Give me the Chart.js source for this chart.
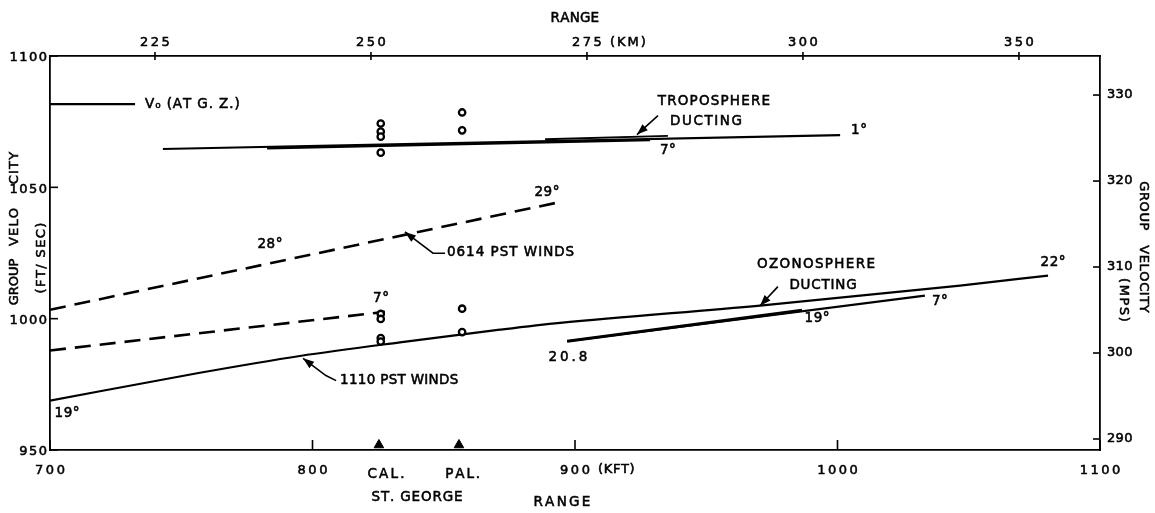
<!DOCTYPE html>
<html><head><meta charset="utf-8">
<script src="https://cdn.jsdelivr.net/npm/chart.js@4.4.1/dist/chart.umd.min.js"></script>
<style>html,body{margin:0;padding:0;background:#fff;} #wrap{width:1155px;height:513px;position:relative;}</style>
</head><body><div id="wrap"><canvas id="c" width="1155" height="513"></canvas></div>
<script>
// ---- axis ticks ----
const kmTicks = [225, 250, 275, 300, 325];
const kmTickLabels = ['225', '250', '275', '300', '350'];
const kftTicks = [700, 800, 900, 1000, 1100];
const kftTickLabels = ['700', '800', '900', '1000', '1100'];
const ftTicks = [950, 1000, 1050, 1100];
const ftTickLabels = ['950', '1000', '1050', '1100'];
const mpsTicks = [290, 300, 310, 320, 330];
const mpsTickLabels = ['290', '300', '310', '320', '330'];

// ---- series (range kft, group velocity ft/sec) ----
const v0X = [700, 732.4];
const v0Y = [1081.7, 1081.7];
const tropo1X = [743.0, 1001.0];
const tropo1Y = [1064.6, 1069.9];
const tropo7X = [782.7, 928.6];
const tropo7Y = [1064.9, 1068.0];
const tropoDuctX = [888.6, 935.4];
const tropoDuctY = [1068.3, 1069.6];
const obsUpperX = [826, 826, 826, 826, 857, 857];
const obsUpperY = [1074.3, 1071.2, 1069.3, 1063.2, 1078.5, 1071.7];
const obsLowerX = [826, 826, 826, 826, 857, 857];
const obsLowerY = [1001.8, 999.9, 992.6, 991.3, 1003.8, 994.9];
const winds0614X = [700, 892.4];
const winds0614Y = [1003.4, 1044.0];
const winds0614LowX = [700, 827.6];
const winds0614LowY = [987.9, 1002.6];
const winds1110X = [700, 757.1, 795.2, 833.3, 871.4, 894.3, 970.5, 1046.7, 1080.2];
const winds1110Y = [968.8, 979.4, 985.8, 991.0, 995.8, 998.4, 1005.0, 1012.6, 1016.4];
const ozone19X = [897.0, 986.5];
const ozone19Y = [991.4, 1003.2];
const ozone7X = [897.0, 1033.3];
const ozone7Y = [991.4, 1008.8];
const stationNames = ['CAL.', 'PAL.'];
const stationX = [825.3, 855.8];
const stationY = [951.9, 951.9];

const FONT = 'DejaVu Sans';
const pts = (xs, ys) => xs.map((x, i) => ({x, y: ys[i]}));

// annotations in data coordinates
const notes = [
  {t: 'V\u2080 (AT G. Z.)', x: 736.2, y: 1081.4, align: 'left', sp: 0.9},
  {t: 'TROPOSPHERE', x: 952.9, y: 1082.8, sp: 1.2},
  {t: 'DUCTING', x: 949.9, y: 1075.2, sp: 1.6},
  {t: '7°', x: 935.4, y: 1063.9},
  {t: '1°', x: 1008.2, y: 1071.8},
  {t: '28°', x: 783.8, y: 1028.4},
  {t: '29°', x: 889.3, y: 1047.9},
  {t: '0614 PST WINDS', x: 851.2, y: 1025.3, align: 'left', sp: 1.0},
  {t: '7°', x: 826.1, y: 1007.6},
  {t: '1110 PST WINDS', x: 810.5, y: 976.4, align: 'left', sp: 0.3},
  {t: '19°', x: 706.5, y: 963.8},
  {t: '20.8', x: 897.3, y: 985.3, sp: 3},
  {t: 'OZONOSPHERE', x: 991.8, y: 1020.5, sp: 1.35},
  {t: 'DUCTING', x: 994.5, y: 1012.8, sp: 0.8},
  {t: '19°', x: 992.2, y: 999.9},
  {t: '7°', x: 1039.0, y: 1006.4},
  {t: '22°', x: 1082.1, y: 1021.3}
];
const arrows = [
  [[931.6, 1077.3], [923.6, 1070.1]],
  [[850.5, 1024.9], [845.9, 1024.9], [835.2, 1033.0]],
  [[809.0, 976.4], [805.1, 978.35], [796.4, 984.9]],
  [[977.3, 1012.2], [970.5, 1004.9]]
];

function spacedText(ctx, text, x, y, o = {}) {
  const size = o.size || 13.5, sp = o.sp || 0, align = o.align || 'center';
  ctx.save();
  ctx.font = size + 'px "' + FONT + '"';
  ctx.textBaseline = 'middle';
  ctx.textAlign = 'left';
  ctx.fillStyle = '#000';
  ctx.strokeStyle = '#000';
  ctx.lineWidth = 0.55;
  ctx.translate(x, y);
  if (o.rot) ctx.rotate(o.rot);
  const chars = Array.from(text);
  const ws = chars.map(c => ctx.measureText(c).width);
  const total = ws.reduce((a, b) => a + b, 0) + sp * (chars.length - 1);
  let cx = align === 'center' ? -total / 2 : (align === 'right' ? -total : 0);
  chars.forEach((c, i) => { ctx.fillText(c, cx, 0); ctx.strokeText(c, cx, 0); cx += ws[i] + sp; });
  ctx.restore();
}

const overlay = {
  id: 'overlay',
  afterDraw(chart) {
    const ctx = chart.ctx;
    const {x, x2, y, y2} = chart.scales;
    const ca = chart.chartArea;
    ctx.save();
    ctx.strokeStyle = '#000';
    ctx.fillStyle = '#000';
    ctx.lineWidth = 1.6;
    const seg = (a, b, c, d) => { ctx.beginPath(); ctx.moveTo(a, b); ctx.lineTo(c, d); ctx.stroke(); };
    // tick marks
    kftTicks.forEach(v => { const p = x.getPixelForValue(v); seg(p, ca.bottom, p, ca.bottom - 10); });
    kmTicks.forEach(v => { const p = x2.getPixelForValue(v); seg(p, ca.top - 4, p, ca.top + 4); });
    ftTicks.forEach(v => { const p = y.getPixelForValue(v); seg(ca.left, p, ca.left + 8, p); });
    mpsTicks.forEach(v => { const p = y2.getPixelForValue(v); seg(ca.right - 7, p, ca.right, p); });
    // tick labels
    kftTicks.forEach((v, i) => spacedText(ctx, kftTickLabels[i], x.getPixelForValue(v), ca.bottom + 21, {size: 13, sp: 2.5}));
    kmTicks.forEach((v, i) => spacedText(ctx, kmTickLabels[i], x2.getPixelForValue(v), ca.top - 13, {size: 13, sp: 2.5}));
    ftTicks.forEach((v, i) => spacedText(ctx, ftTickLabels[i], ca.left - 3, y.getPixelForValue(v) + 2, {size: 13, sp: 1.5, align: 'right'}));
    mpsTicks.forEach((v, i) => spacedText(ctx, mpsTickLabels[i], ca.right + 7, y2.getPixelForValue(v), {size: 13, sp: 0.3, align: 'left'}));
    // unit labels beside ticks
    spacedText(ctx, '(KFT)', x.getPixelForValue(908.8), ca.bottom + 20, {size: 13, sp: 0.6, align: 'left'});
    spacedText(ctx, '(KM)', x2.getPixelForValue(277.66), ca.top - 13, {size: 13, sp: 2, align: 'left'});
    // station names
    spacedText(ctx, stationNames[0], x.getPixelForValue(828), ca.bottom + 24, {sp: 2.2});
    spacedText(ctx, stationNames[1], x.getPixelForValue(857.2), ca.bottom + 24, {sp: 1.9});
    spacedText(ctx, 'ST. GEORGE', x.getPixelForValue(839.8), ca.bottom + 47, {sp: 0.85});
    // axis titles
    spacedText(ctx, 'RANGE', x.getPixelForValue(895), ca.bottom + 52, {sp: 2.3});
    spacedText(ctx, 'RANGE', x2.getPixelForValue(273.6), 18, {sp: 0.2});
    spacedText(ctx, 'GROUP', 15, 282, {size: 13, sp: 0, rot: -Math.PI / 2});
    spacedText(ctx, 'VELO', 15, 227, {size: 13, sp: 1.2, rot: -Math.PI / 2});
    spacedText(ctx, 'CITY', 15, 168, {size: 13, sp: 1.2, rot: -Math.PI / 2});
    spacedText(ctx, '(FT/ SEC)', 42, 258, {size: 13, sp: 1.4, rot: -Math.PI / 2});
    spacedText(ctx, 'GROUP   VELOCITY', 1143, 247, {size: 13, sp: 0.6, rot: Math.PI / 2});
    spacedText(ctx, '(MPS)', 1123, 300, {size: 13, sp: 1.6, rot: Math.PI / 2});
    // notes
    notes.forEach(n => spacedText(ctx, n.t, x.getPixelForValue(n.x), y.getPixelForValue(n.y), {sp: n.sp || 0.5, align: n.align || 'center'}));
    // arrows
    ctx.lineWidth = 1.6;
    arrows.forEach(a => {
      const p = a.map(q => [x.getPixelForValue(q[0]), y.getPixelForValue(q[1])]);
      ctx.beginPath();
      ctx.moveTo(p[0][0], p[0][1]);
      for (let i = 1; i < p.length; i++) ctx.lineTo(p[i][0], p[i][1]);
      ctx.stroke();
      const [tx, ty] = p[p.length - 1], [fx, fy] = p[p.length - 2];
      const ang = Math.atan2(ty - fy, tx - fx);
      const L = 11, W = 4;
      ctx.beginPath();
      ctx.moveTo(tx, ty);
      ctx.lineTo(tx - L * Math.cos(ang) + W * Math.sin(ang), ty - L * Math.sin(ang) - W * Math.cos(ang));
      ctx.lineTo(tx - L * Math.cos(ang) - W * Math.sin(ang), ty - L * Math.sin(ang) + W * Math.cos(ang));
      ctx.closePath();
      ctx.fill();
    });
    ctx.restore();
  }
};

const lineDs = (data, w, extra = {}) => Object.assign({
  data, showLine: true, borderColor: '#000', borderWidth: w, pointRadius: 0,
  borderCapStyle: 'butt', fill: false, xAxisID: 'x', yAxisID: 'y'
}, extra);
const circleDs = data => ({
  data, showLine: false, pointRadius: 3.2, pointBorderWidth: 2.3, borderColor: '#000',
  pointBackgroundColor: '#fff', pointBorderColor: '#000', xAxisID: 'x', yAxisID: 'y'
});

const blankScale = (pos, min, max, size, ticks) => ({
  type: 'linear', position: pos, min, max,
  grid: {display: false, drawTicks: false},
  border: {display: true, color: '#000', width: 1.8},
  ticks: {display: false},
  afterBuildTicks: s => { s.ticks = ticks.map(v => ({value: v})); },
  afterFit: s => { if (pos === 'top' || pos === 'bottom') s.height = size; else s.width = size; }
});

new Chart(document.getElementById('c'), {
  type: 'scatter',
  data: {
    datasets: [
      lineDs(pts(v0X, v0Y), 2.2),
      lineDs(pts(tropo1X, tropo1Y), 2.2),
      lineDs(pts(tropo7X, tropo7Y), 2.6),
      lineDs(pts(tropoDuctX, tropoDuctY), 1.8),
      circleDs(pts(obsUpperX, obsUpperY)),
      circleDs(pts(obsLowerX, obsLowerY)),
      lineDs(pts(winds0614X, winds0614Y), 2.6, {borderDash: [16, 9]}),
      lineDs(pts(winds0614LowX, winds0614LowY), 2.6, {borderDash: [16, 9]}),
      lineDs(pts(winds1110X, winds1110Y), 2.2, {cubicInterpolationMode: 'monotone'}),
      lineDs(pts(ozone19X, ozone19Y), 3.2),
      lineDs(pts(ozone7X, ozone7Y), 2.2),
      {data: pts(stationX, stationY), showLine: false, pointStyle: 'triangle', pointRadius: 5.5,
       pointBackgroundColor: '#000', pointBorderColor: '#000', xAxisID: 'x', yAxisID: 'y'}
    ]
  },
  options: {
    responsive: false,
    animation: false,
    devicePixelRatio: 1,
    layout: {padding: 0},
    plugins: {legend: {display: false}, tooltip: {enabled: false}},
    scales: {
      x: blankScale('bottom', 700, 1100, 63, kftTicks),
      x2: blankScale('top', 212.85, 334.38, 56, kmTicks),
      y: blankScale('left', 950, 1100, 50, ftTicks),
      y2: blankScale('right', 288.72, 334.54, 55, mpsTicks)
    }
  },
  plugins: [overlay]
});
</script></body></html>
